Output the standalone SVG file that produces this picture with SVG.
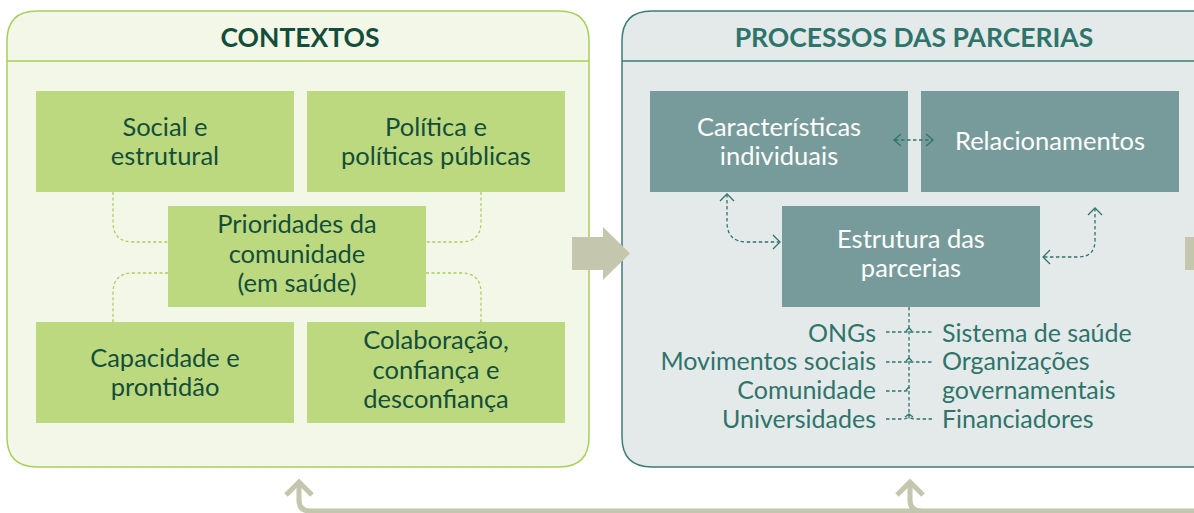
<svg xmlns="http://www.w3.org/2000/svg" width="1194" height="513" viewBox="0 0 1194 513">
<style>
text{font-family:Lato,"Noto Sans","Liberation Sans",sans-serif}
.t{font-size:26.5px;font-weight:bold;text-anchor:middle}
.g{fill:#bdd97f}
.gt{fill:#134e3a;font-size:25.5px;text-anchor:middle}
.b{fill:#779b9a}
.bt{fill:#ffffff;font-size:25.5px;text-anchor:middle}
.lt{fill:#2e746b;font-size:25px}
.gd{fill:none;stroke:#a8cf5a;stroke-width:1.3;stroke-dasharray:3 2.5}
.td{fill:none;stroke:#2e746b;stroke-width:1.3;stroke-dasharray:3.5 2.5}
.ah{fill:none;stroke:#2e746b;stroke-width:1.3}
.big{fill:none;stroke:#c4c6ad;stroke-width:5}
</style>
<g id="panel-contextos">
<path d="M37,11 H559 Q589,11 589,41 V437 Q589,467 559,467 H37 Q7,467 7,437 V41 Q7,11 37,11 Z" fill="#f2f7e8" stroke="#a8cf5a" stroke-width="1.5"/>
<line x1="7" y1="61" x2="589" y2="61" stroke="#a8cf5a" stroke-width="1.5"/>
<text class="t" x="300" y="47" fill="#134e3a">CONTEXTOS</text>
</g>
<g id="panel-processos">
<path d="M652,11 H1230 V467 H652 Q622,467 622,437 V41 Q622,11 652,11 Z" fill="#e4eaea" stroke="#3d7d75" stroke-width="1.5"/>
<line x1="622" y1="61" x2="1194" y2="61" stroke="#3d7d75" stroke-width="1.5"/>
<text class="t" x="914" y="47" fill="#2e746b">PROCESSOS DAS PARCERIAS</text>
</g>
<g id="social">
<rect class="g" x="36" y="91" width="258" height="101"/>
<text class="gt" x="165" y="136">Social e</text>
<text class="gt" x="165" y="165">estrutural</text>
</g>
<g id="politica">
<rect class="g" x="307" y="91" width="258" height="101"/>
<text class="gt" x="436" y="136">Política e</text>
<text class="gt" x="436" y="165">políticas públicas</text>
</g>
<g id="prioridades">
<rect class="g" x="168" y="206" width="258" height="101"/>
<text class="gt" x="297" y="233">Prioridades da</text>
<text class="gt" x="297" y="263">comunidade</text>
<text class="gt" x="297" y="292">(em saúde)</text>
</g>
<g id="capacidade">
<rect class="g" x="36" y="322" width="258" height="101"/>
<text class="gt" x="165" y="367">Capacidade e</text>
<text class="gt" x="165" y="396">prontidão</text>
</g>
<g id="colaboracao">
<rect class="g" x="307" y="322" width="258" height="101"/>
<text class="gt" x="436" y="349">Colaboração,</text>
<text class="gt" x="436" y="379">confiança e</text>
<text class="gt" x="436" y="408">desconfiança</text>
</g>
<g id="caracteristicas">
<rect class="b" x="650" y="91" width="258" height="101"/>
<text class="bt" x="779" y="136">Características</text>
<text class="bt" x="779" y="165">individuais</text>
</g>
<g id="relacionamentos">
<rect class="b" x="921" y="91" width="258" height="101"/>
<text class="bt" x="1050" y="150">Relacionamentos</text>
</g>
<g id="estrutura">
<rect class="b" x="782" y="206" width="258" height="101"/>
<text class="bt" x="911" y="248">Estrutura das</text>
<text class="bt" x="911" y="277">parcerias</text>
</g>
<g id="atores">
<text class="lt" x="876" y="342" text-anchor="end">ONGs</text>
<text class="lt" x="876" y="370" text-anchor="end">Movimentos sociais</text>
<text class="lt" x="876" y="399" text-anchor="end">Comunidade</text>
<text class="lt" x="876" y="428" text-anchor="end">Universidades</text>
<text class="lt" x="942" y="342">Sistema de saúde</text>
<text class="lt" x="942" y="370">Organizações</text>
<text class="lt" x="942" y="399">governamentais</text>
<text class="lt" x="942" y="428">Financiadores</text>
</g>
<g id="connectors">
<path class="gd" d="M113,192 V222 Q113,242 133,242 H168"/>
<path class="gd" d="M481,192 V222 Q481,242 461,242 H426"/>
<path class="gd" d="M168,273 H133 Q113,273 113,293 V322"/>
<path class="gd" d="M426,273 H461 Q481,273 481,293 V322"/>
<path d="M572,237 H603 V227 L630,253.5 L603,280 V270 H572 Z" fill="#c4c6ad"/>
<rect x="1185" y="237" width="9" height="33" fill="#c4c6ad"/>
<path class="td" d="M895,140 H932"/>
<path class="ah" d="M901,134 L894,140 L901,146 M926,134 L933,140 L926,146"/>
<path class="td" d="M727,194 V222 Q727,242 747,242 H779"/>
<path class="ah" d="M720,201 L727,194 L734,201 M773,235 L780,242 L773,249"/>
<path class="td" d="M1095,208 V240 Q1095,257 1078,257 H1043"/>
<path class="ah" d="M1088,215 L1095,208 L1102,215 M1050,250 L1043,257 L1050,264"/>
<path class="td" d="M909,307 V419"/>
<path class="td" d="M886,332 H932 M886,362 H932 M886,391 H905 Q909,391 909,387 M886,419 H903 Q909,419 909,414 Q909,419 915,419 H932"/>
<path class="ah" d="M906,331 L909,328 L912,331 M906,361 L909,358 L912,361 M906,390 L909,387 M905,417 L909,414 L913,417"/>
<path class="big" d="M299,483 V500 Q299,511 310,511 H1194"/>
<path class="big" d="M286,495 L299,482 L312,495"/>
<path class="big" d="M910,483 V500 Q910,511 921,511"/>
<path class="big" d="M897,495 L910,482 L923,495"/>
</g>
</svg>
